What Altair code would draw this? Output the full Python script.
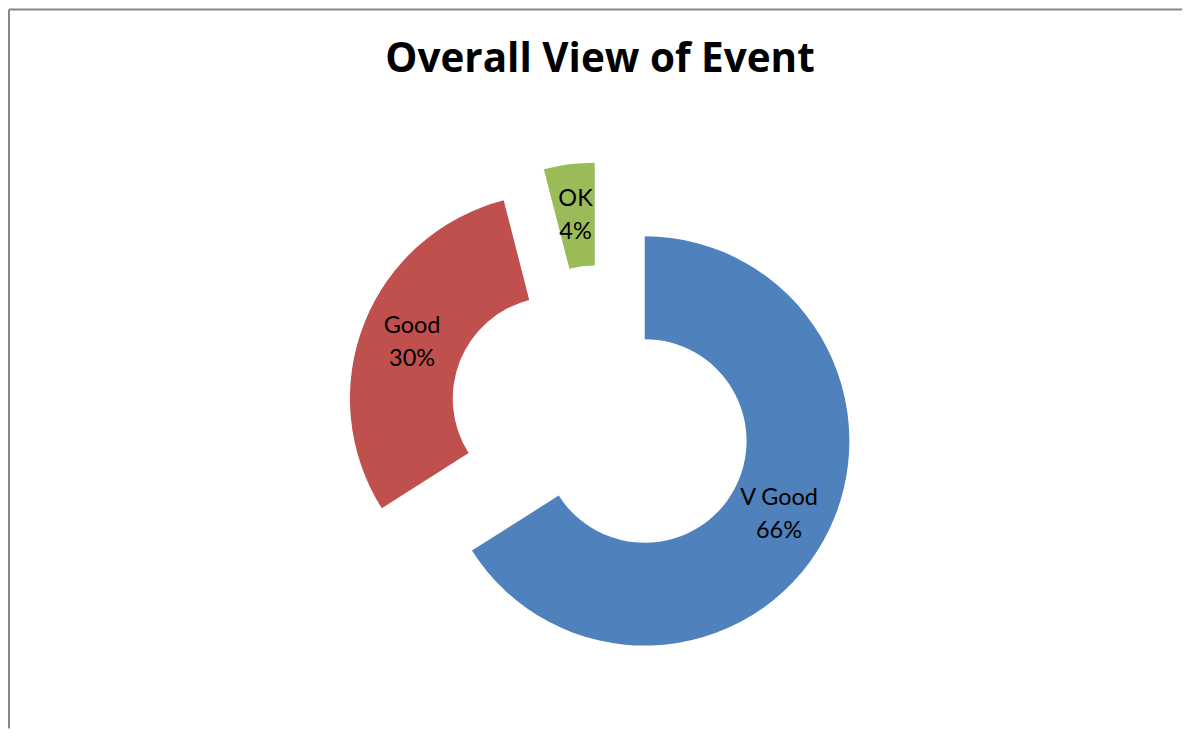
import math
import altair as alt
import pandas as pd

# Data
categories = ["V Good", "Good", "OK"]
values = [66, 30, 4]
colors = ["#4F81BD", "#C0504D", "#9BBB59"]
title_text = "Overall View of Event"

df = pd.DataFrame({"category": categories, "value": values, "order": list(range(len(categories)))})

W, H = 1175, 720
CX, CY = 593, 408          # donut centre (view px)
EXPLODE = 50               # explosion distance
R_OUT, R_IN = 205, 102
FONT = "Lato"
LINE_H = 33

theta_scale = alt.Scale(domain=[0, 1], range=[0, 2 * math.pi])

base = (
    alt.Chart(df)
    .transform_joinaggregate(total="sum(value)")
    .transform_window(cum="sum(value)", sort=[alt.SortField("order")], frame=[None, 0])
    .transform_calculate(
        end="datum.cum / datum.total",
        start="(datum.cum - datum.value) / datum.total",
    )
    .transform_calculate(mid="(datum.start + datum.end) / 2")
    .transform_calculate(
        px=f"{CX} + {EXPLODE} * sin(datum.mid * 2 * PI)",
        py=f"{CY} - {EXPLODE} * cos(datum.mid * 2 * PI)",
        label="datum.category + '\\n' + format(datum.value / datum.total, '.0%')",
    )
)

arcs = base.mark_arc(outerRadius=R_OUT, innerRadius=R_IN).encode(
    x=alt.X("px:Q", scale=None, axis=None),
    y=alt.Y("py:Q", scale=None, axis=None),
    theta=alt.Theta("start:Q", scale=theta_scale),
    theta2="end:Q",
    color=alt.Color("category:N", scale=alt.Scale(domain=categories, range=colors), legend=None),
)

labels = base.mark_text(
    radius=(R_OUT + R_IN) / 2,
    fontSize=23.5,
    font=FONT,
    color="black",
    lineBreak="\n",
    lineHeight=LINE_H,
    align="center",
    baseline="middle",
    dy=-LINE_H / 2,
).encode(
    x=alt.X("px:Q", scale=None, axis=None),
    y=alt.Y("py:Q", scale=None, axis=None),
    theta=alt.Theta("mid:Q", scale=theta_scale),
    text="label:N",
)

title = alt.Chart(alt.Data(values=[{"t": title_text}])).mark_text(
    font="Open Sans", fontSize=40.5, fontWeight="bold", color="black", align="center", baseline="alphabetic"
).encode(x=alt.value(592), y=alt.value(62), text="t:N")

border_left = alt.Chart(alt.Data(values=[{}])).mark_rule(color="#888888", strokeWidth=2).encode(
    x=alt.value(0), y=alt.value(0), y2=alt.value(H)
)
border_top = alt.Chart(alt.Data(values=[{}])).mark_rule(color="#888888", strokeWidth=2).encode(
    x=alt.value(0), x2=alt.value(W), y=alt.value(0)
)

chart = (
    alt.layer(arcs, labels, title, border_left, border_top)
    .properties(width=W, height=H, padding=0, background="white")
    .configure_view(stroke=None)
)

chart.save("out.html", embed_options={"renderer": "svg", "actions": False})
